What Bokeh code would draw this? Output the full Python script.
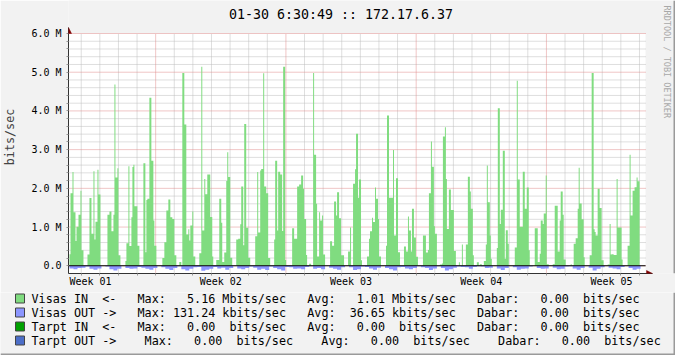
import numpy as np
from bokeh.plotting import figure
from bokeh.layouts import column
from bokeh.models import Range1d, FixedTicker, Label, BoxAnnotation, Arrow, NormalHead
from bokeh.core.properties import value
from bokeh.embed import file_html
from bokeh.resources import INLINE

# ---------------- data ----------------
TITLE = "01-30 6:30:49 :: 172.17.6.37"
Y_LABEL = "bits/sec"
WATERMARK = "RRDTOOL / TOBI OETIKER"

Y_TICKS = [0, 1, 2, 3, 4, 5, 6]                      # Mbit/s
Y_TICK_LABELS = ["0.0", "1.0 M", "2.0 M", "3.0 M", "4.0 M", "5.0 M", "6.0 M"]
WEEK_LABELS = ["Week 01", "Week 02", "Week 03", "Week 04", "Week 05"]
WEEK_LABEL_HOURS = [84, 252, 420, 588, 756]          # hours from start of week 01
WEEK_LINE_HOURS = [168, 336, 504, 672]

IN_START_H, IN_STEP_H = 56.88, 1.2877                # Visas IN samples (hours)
OUT_START_H, OUT_STEP_H = 56.88, 5.1508              # Visas OUT samples (hours)

VISAS_IN = [  # Mbit/s
    0.30, 1.87, 1.87, 2.42, 1.38, 1.38, 0.64, 1.01, 1.01, 1.32,
    1.32, 1.94, 0.40, 0.40, 0, 0, 0, 0, 0.29, 0.29,
    1.75, 1.75, 0.83, 0.83, 2.44, 0.68, 1.14, 1.14, 2.48, 1.84,
    1.84, 0, 0, 0, 0, 0, 0, 0, 1.32, 1.32,
    1.40, 1.40, 0.89, 0.89, 1.32, 4.68, 2.28, 2.28, 2.52, 0.27,
    0.27, 0, 0, 0, 0, 0, 0.12, 0.58, 0.58, 2.57,
    0.51, 0.51, 1.25, 2.55, 2.61, 1.54, 1.54, 1.54, 0.52, 0.52,
    0, 0, 0, 0, 2.65, 2.65, 0.35, 1.70, 1.73, 1.73,
    4.34, 4.34, 2.71, 2.71, 1.17, 0.52, 0.52, 0, 0, 0,
    0, 0, 0, 0.20, 0.20, 0.61, 0.61, 1.43, 1.43, 1.71,
    1.71, 1.25, 1.25, 1.21, 1.21, 0.27, 0.27, 0, 0, 0,
    0.10, 0.10, 0, 4.98, 4.98, 3.65, 3.65, 0.81, 0.81, 0.94,
    0.65, 1.04, 1.04, 1.40, 0.24, 0.24, 0, 0, 0, 0,
    0.32, 0.32, 5.14, 0.91, 0.91, 2.24, 1.85, 1.85, 2.36, 2.36,
    2.36, 1.26, 1.26, 0.24, 0, 0, 0, 0.15, 0.15, 0.15,
    1.73, 1.73, 1.11, 0.10, 0.10, 0.34, 0.34, 2.19, 2.93, 2.29,
    2.29, 0.21, 0.21, 0, 0, 0, 0, 0.68, 0.68, 0.70,
    0.70, 1.07, 2.05, 2.05, 0.53, 3.66, 3.66, 0.98, 0.98, 0.21,
    0.21, 0, 0, 0, 0, 0, 0.76, 0.76, 2.42, 0.86,
    0.86, 2.46, 2.50, 2.50, 4.97, 2.05, 2.05, 1.87, 1.87, 0.20,
    0.20, 0, 0, 0, 0, 0.68, 2.71, 2.71, 0.91, 2.43,
    2.43, 2.36, 2.36, 0.90, 5.14, 5.14, 0.15, 0, 0, 0,
    0, 0, 0, 0.97, 0.97, 0.70, 0.70, 0.70, 2.05, 2.05,
    2.10, 2.10, 2.33, 2.33, 1.99, 1.21, 1.21, 0.28, 0, 0,
    0.05, 0.05, 0, 0, 4.98, 2.87, 2.87, 1.60, 0.24, 0.24,
    1.38, 1.17, 1.17, 1.30, 0.29, 0.29, 0, 0, 0, 0,
    0, 0.63, 0.63, 0.52, 0.52, 1.66, 1.66, 1.30, 1.90, 1.90,
    1.23, 1.23, 0.27, 0.27, 0.27, 0, 0, 0, 0, 0.37,
    0.37, 0.99, 0, 0, 2.12, 2.12, 2.49, 3.41, 3.41, 1.76,
    2.23, 2.23, 0.14, 0, 0, 0, 0, 0, 0.24, 0.24,
    0.70, 0.89, 0.89, 1.24, 1.13, 1.13, 2.02, 1.73, 1.73, 1.21,
    0.24, 0.24, 0, 0, 0, 0, 0, 0.52, 3.88, 3.88,
    1.76, 1.76, 1.76, 1.76, 2.99, 0.78, 0.78, 2.26, 2.26, 0.35,
    0.35, 0, 0, 0, 0, 0.50, 0.50, 0.37, 0.37, 1.27,
    0.91, 0.91, 0.37, 1.47, 1.47, 0.73, 0.73, 0.23, 0.23, 0,
    0, 0, 0, 0, 0.78, 0.78, 0.78, 0.34, 0.34, 0.41,
    1.87, 1.87, 3.21, 2.56, 2.56, 1.02, 0.83, 0.83, 0, 0,
    0, 0.03, 0.03, 0.06, 3.34, 3.34, 3.58, 2.24, 0.95, 0.95,
    1.97, 1.97, 1.44, 1.44, 1.44, 0.38, 0.38, 0, 0, 0,
    0.09, 0, 0, 0.55, 0, 0, 0, 0.55, 0.55, 2.30,
    2.30, 1.92, 1.47, 1.47, 0.27, 0, 0, 0, 0.09, 0.09,
    0, 0.04, 0.04, 0, 0, 0.12, 0.12, 0.55, 2.59, 1.64,
    1.64, 0.78, 0.18, 0, 0, 0, 0, 0, 0.46, 4.07,
    4.07, 1.08, 1.45, 1.45, 2.97, 2.97, 0.18, 0.92, 0.92, 0.57,
    0, 0, 0, 0, 0, 0, 0.47, 0.47, 4.78, 2.23,
    2.23, 1.01, 1.01, 1.01, 2.43, 2.43, 1.47, 1.47, 2.02, 2.02,
    0.40, 0, 0, 0, 0, 0, 0.97, 0.97, 0.97, 0.10,
    0.10, 0.31, 1.17, 1.17, 1.08, 1.35, 1.35, 2.33, 0.04, 0.04,
    0, 0, 0, 0, 0.04, 0.04, 1.55, 1.55, 1.55, 0.37,
    0.37, 1.17, 1.92, 1.92, 1.32, 0.16, 0.16, 0, 0, 0,
    0, 0, 0.04, 0, 0, 0.57, 0.57, 0.71, 0.71, 1.47,
    2.53, 1.61, 1.61, 1.20, 1.20, 0.22, 0, 0, 0, 0,
    0, 0.27, 0.27, 4.98, 4.98, 0.94, 0.87, 0.78, 0.78, 1.99,
    1.99, 1.49, 1.49, 0.14, 0.14, 0, 0, 0, 0, 0.03,
    0.03, 1.08, 0.29, 0.30, 0.30, 0.28, 0.28, 0.28, 2.24, 0.99,
    0.99, 0.99, 0.99, 0.16, 0, 0, 0, 0, 0, 0.52,
    0.52, 2.87, 1.30, 1.30, 1.94, 1.94, 2.03, 2.03, 2.28, 2.18,
    2.18, 0, 0, 0, 0, 0, 0,
]

VISAS_OUT = [  # Mbit/s (drawn below zero)
    0.07, 0.09, 0.06, 0.05, 0.02, 0.08, 0.10, 0.07, 0, 0.02,
    0.09, 0.12, 0.08, 0, 0.06, 0.08, 0.07, 0.03, 0.05, 0.08,
    0.10, 0.06, 0, 0.04, 0.08, 0.11, 0.06, 0.01, 0.09, 0.12,
    0.08, 0.04, 0.03, 0.13, 0.10, 0.08, 0.03, 0.07, 0.05, 0.10,
    0.06, 0, 0.07, 0.09, 0.06, 0.02, 0.05, 0.10, 0.08, 0.11,
    0.02, 0.06, 0.09, 0.12, 0.03, 0.04, 0.08, 0.07, 0.09, 0.03,
    0.01, 0.08, 0.06, 0.09, 0, 0.05, 0.08, 0.10, 0.04, 0,
    0.04, 0.11, 0.09, 0.02, 0.03, 0.07, 0.10, 0.05, 0, 0.06,
    0.09, 0.12, 0.04, 0.03, 0.07, 0.09, 0.06, 0.01, 0.04, 0.06,
    0.11, 0.07, 0.01, 0.06, 0.12, 0.09, 0.05, 0.02, 0.03, 0.04,
    0.08, 0.03, 0.01, 0.02, 0.06, 0.05, 0, 0.07, 0.11, 0.06,
    0, 0.04, 0.10, 0.08, 0.07, 0.02, 0, 0.06, 0.08, 0.07,
    0, 0.05, 0.09, 0.08, 0.02, 0.01, 0.07, 0.10, 0.06, 0,
    0.05, 0.12, 0.08, 0.04, 0, 0.05, 0.07, 0.09, 0.03, 0,
    0.06, 0.10, 0.08, 0,
]

LEGEND_NAMES = ["Visas IN", "Visas OUT", "Tarpt IN", "Tarpt OUT"]
LEGEND_DIRS = ["<-", "->", "<-", "->"]
MAX_VALUES = ["5.16", "131.24", "0.00", "0.00"]
MAX_UNITS = ["Mbits/sec", "kbits/sec", "bits/sec", "bits/sec"]
AVG_VALUES = ["1.01", "36.65", "0.00", "0.00"]
AVG_UNITS = ["Mbits/sec", "kbits/sec", "bits/sec", "bits/sec"]
NOW_VALUES = ["0.00", "0.00", "0.00", "0.00"]
NOW_UNITS = ["bits/sec", "bits/sec", "bits/sec", "bits/sec"]

# ---------------- style / layout ----------------
GREEN = "#80dc80"
BLUE = "#8c96ff"
LEGEND_COLORS = [GREEN, BLUE, "#00a000", "#4c6ec8"]
MINOR_GRID = "#bdbdbd"
MAJOR_GRID = "#e08c8c"
ARROW_C = "#800000"
AXIS_C = "#333333"
BACK = "#f2f2f2"
SHADE_DARK = "#9a9a9a"
MONO = "DejaVu Sans Mono"

W = 675
H1, H2 = 292, 63                     # chart part / legend part
FL, FR, FT, FB = 67, 675, 0, 273     # frame of the chart part (canvas px)
PX_PER_HOUR = 130.47 / 168.0         # one week = 130.47 px
WEEK0_PX = 23.83                     # canvas x of hour 0
Y0_PX, PX_PER_M = 265.26, 240.0 / 6.2


def hx(px):  # canvas x -> hours
    return (px - WEEK0_PX) / PX_PER_HOUR


def my(py):  # canvas y -> Mbit/s
    return (Y0_PX - py) / PX_PER_M


PLOT_L, PLOT_R = hx(67), hx(645)
PLOT_B, PLOT_T = -0.2, 6.0

p = figure(width=W, height=H1, output_backend="svg", toolbar_location=None, title=None,
           x_range=Range1d(hx(FL), hx(FR)), y_range=Range1d(my(FB), my(FT)),
           min_border_left=FL, min_border_right=W - FR,
           min_border_top=FT, min_border_bottom=H1 - FB)
p.frame_align = False
p.background_fill_color = BACK
p.border_fill_color = BACK
p.outline_line_color = None
p.grid.visible = False

day_hours = [h for h in range(72, 800, 24) if h % 168]
y_minor = [round(v * 0.2, 1) for v in range(-1, 31) if v % 5]

# white canvas + grid
p.quad(left=PLOT_L, right=PLOT_R, bottom=PLOT_B, top=PLOT_T, fill_color="white",
       line_color=None, level="underlay")
p.segment(x0=day_hours, x1=day_hours, y0=PLOT_B, y1=PLOT_T, line_color=MINOR_GRID,
          line_dash="1 1", level="underlay")
p.segment(x0=PLOT_L, x1=PLOT_R, y0=y_minor, y1=y_minor, line_color=MINOR_GRID,
          line_dash="1 1", level="underlay")
p.segment(x0=WEEK_LINE_HOURS, x1=WEEK_LINE_HOURS, y0=PLOT_B, y1=PLOT_T,
          line_color=MAJOR_GRID, line_dash="1 1", level="underlay")
p.segment(x0=PLOT_L, x1=PLOT_R, y0=Y_TICKS, y1=Y_TICKS, line_color=MAJOR_GRID,
          line_dash="1 1", level="underlay")

# areas
n_in = len(VISAS_IN)
x_in = IN_START_H + IN_STEP_H * np.arange(n_in + 1)
y_in = np.array(VISAS_IN + [VISAS_IN[-1]])
p.varea_step(x=x_in, y1=np.zeros(n_in + 1), y2=y_in, step_mode="after", fill_color=GREEN)
n_out = len(VISAS_OUT)
x_out = OUT_START_H + OUT_STEP_H * np.arange(n_out + 1)
y_out = -np.array(VISAS_OUT + [VISAS_OUT[-1]])
p.varea_step(x=x_out, y1=y_out, y2=np.zeros(n_out + 1), step_mode="after", fill_color=BLUE)

p.segment(x0=PLOT_L, x1=PLOT_R, y0=0, y1=0, line_color="black", line_width=1)

# axes
xax, yax = p.xaxis[0], p.yaxis[0]
for ax in (xax, yax):
    ax.axis_line_color = AXIS_C
    ax.major_label_text_font = MONO
    ax.major_label_text_font_size = "10px"
    ax.major_label_text_color = "black"
    ax.minor_tick_line_color = "#999999"
    ax.major_tick_in = 0
    ax.minor_tick_in = 0

yax.bounds = (PLOT_B, my(27))
yax.ticker = FixedTicker(ticks=Y_TICKS, minor_ticks=y_minor)
yax.major_label_overrides = {t: l for t, l in zip(Y_TICKS, Y_TICK_LABELS)}
yax.major_tick_out = 2
yax.minor_tick_out = 2
yax.major_tick_line_color = "#999999"
yax.major_label_standoff = 5
yax.axis_label = Y_LABEL
yax.axis_label_text_font = MONO
yax.axis_label_text_font_size = "11.75px"
yax.axis_label_text_font_style = "normal"
yax.axis_label_standoff = 11

xax.bounds = (PLOT_L, hx(652))
xax.ticker = FixedTicker(ticks=WEEK_LABEL_HOURS, minor_ticks=day_hours + WEEK_LINE_HOURS)
xax.major_label_overrides = {t: l for t, l in zip(WEEK_LABEL_HOURS, WEEK_LABELS)}
xax.major_tick_line_color = None
xax.major_tick_out = 2
xax.minor_tick_out = 2
xax.major_label_standoff = 0

# title + watermark (inside the frame)
p.add_layout(Label(x=hx(340), y=my(14), text=TITLE, text_font=MONO, text_font_size="13.3px",
                   text_align="center", text_baseline="middle", text_color="black"))
p.add_layout(Label(x=hx(666), y=my(5), text=WATERMARK, text_font=MONO, text_font_size="8.5px",
                   text_align="left", text_baseline="middle", text_color="#a8a8a8",
                   angle=-np.pi / 2))

# axis arrows
for xs, ys, xe, ye in [(PLOT_L, PLOT_T, PLOT_L, my(27)), (PLOT_R, PLOT_B, hx(652), PLOT_B)]:
    p.add_layout(Arrow(end=NormalHead(size=6, fill_color=ARROW_C, line_color=ARROW_C,
                                      line_width=0.5),
                       x_start=xs, y_start=ys, x_end=xe, y_end=ye, line_alpha=0))

# right shading of chart part
p.add_layout(BoxAnnotation(left=hx(673), right=hx(675), bottom=my(FB), top=my(0),
                           fill_color=SHADE_DARK, fill_alpha=1, line_color=None))

# ---------------- legend part ----------------
q = figure(width=W, height=H2, output_backend="svg", toolbar_location=None, title=None,
           x_range=Range1d(0, W), y_range=Range1d(H2, 0),
           x_axis_type=None, y_axis_type=None, min_border=0)
q.frame_align = False
q.background_fill_color = BACK
q.border_fill_color = BACK
q.outline_line_color = None

CH = 7.07                      # monospace advance (px)
TX0 = 31                       # legend text start
ROWS = [298 - H1, 312 - H1, 326 - H1, 340 - H1]
COL_MAX = [15, 15, 15, 16]
COL_AVG = [39, 39, 39, 41]
COL_NOW = [63, 63, 63, 66]

q.quad(left=[15] * 4, right=[24] * 4, top=[r - 4.5 for r in ROWS],
       bottom=[r + 4.5 for r in ROWS], fill_color=LEGEND_COLORS, line_color="#444444")


def texts(xs, strings, align):
    q.text(x=xs, y=ROWS, text=strings, text_font=value(MONO),
           text_font_size=value("11.75px"), text_align=align, text_baseline="middle",
           text_color="black")


def col(c):
    return [TX0 + k * CH for k in c]


texts(col([0] * 4), LEGEND_NAMES, "left")
texts(col([10] * 4), LEGEND_DIRS, "left")
texts(col(COL_MAX), ["Max:"] * 4, "left")
texts(col([c + 11 for c in COL_MAX]), MAX_VALUES, "right")
texts(col([c + 21 for c in COL_MAX]), MAX_UNITS, "right")
texts(col(COL_AVG), ["Avg:"] * 4, "left")
texts(col([c + 11 for c in COL_AVG]), AVG_VALUES, "right")
texts(col([c + 21 for c in COL_AVG]), AVG_UNITS, "right")
texts(col(COL_NOW), ["Dabar:"] * 4, "left")
texts(col([c + 13 for c in COL_NOW]), NOW_VALUES, "right")
texts(col([c + 23 for c in COL_NOW]), NOW_UNITS, "right")

q.quad(left=[673, 0], right=[675, 675], top=[0, H2 - 2], bottom=[H2, H2],
       fill_color=SHADE_DARK, line_color=None)

layout = column(p, q, spacing=0)
open("out.html", "w").write(file_html(layout, INLINE))
